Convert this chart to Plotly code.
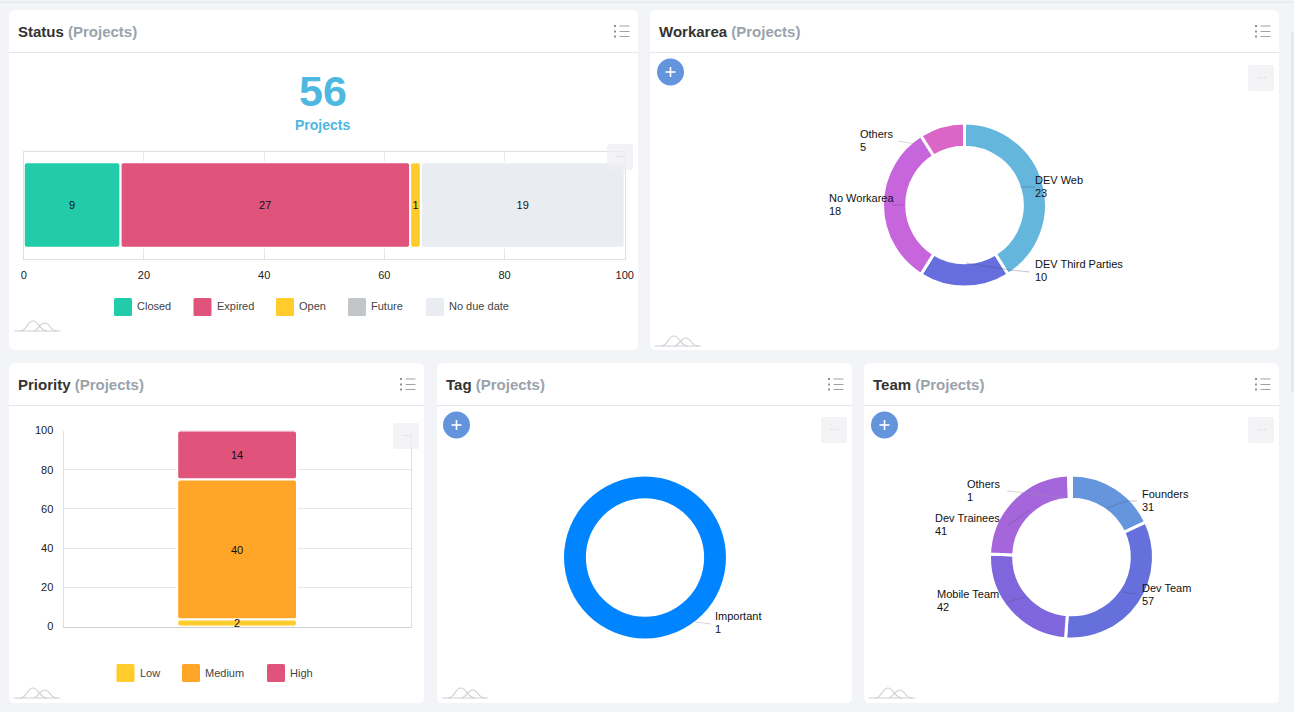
import plotly.graph_objects as go

W, H = 1294, 712
FONT = "Liberation Sans"

# ---------- data ----------
status_labels = ["Closed", "Expired", "Open", "Future", "No due date"]
status_values = [9, 27, 1, 0, 19]
status_colors = ["#22CCAA", "#E0537A", "#FFCC2B", "#C2C6C8", "#E9EDF1"]
total_label = "56"
total_caption = "Projects"

priority_labels = ["Low", "Medium", "High"]
priority_values = [2, 40, 14]
priority_colors = ["#FFCC2B", "#FFA629", "#E0537A"]

workarea_labels = ["DEV Web", "DEV Third Parties", "No Workarea", "Others"]
workarea_values = [23, 10, 18, 5]
workarea_colors = ["#65B6DC", "#656EDC", "#C766DC", "#DC66C8"]

tag_labels = ["Important"]
tag_values = [1]
tag_colors = ["#0084FF"]

team_labels = ["Founders", "Dev Team", "Mobile Team", "Dev Trainees", "Others"]
team_values = [31, 57, 42, 41, 1]
team_colors = ["#6595DC", "#6570DC", "#8066DC", "#A566DC", "#C766DC"]

axis_ticks = [0, 20, 40, 60, 80, 100]
panel_titles = ["Status", "Workarea", "Priority", "Tag", "Team"]

# ---------- layout geometry (pixels) ----------
panels = [(9, 10, 638, 350), (650, 10, 1279, 350), (9, 363, 424, 703),
          (437, 363, 852, 703), (864, 363, 1279, 703)]
spark_origin = [(14, 331), (655, 346), (14, 698), (442, 698), (869, 698)]
plus_buttons = [(670.5, 72), (456.5, 425), (884.5, 425)]
grey_boxes = [(607, 144), (1248, 65), (393, 423), (821, 417), (1248, 417)]

px = lambda x: x / W
py = lambda y: 1 - y / H

shapes, annots = [], []


def rect(x0, y0, x1, y1, fill, layer="below"):
    shapes.append(dict(type="rect", xref="paper", yref="paper", x0=px(x0), x1=px(x1),
                       y0=py(y0), y1=py(y1), fillcolor=fill, line_width=0, layer=layer))


def seg(pts, color, width=1, layer="below"):
    d = "M " + " L ".join(f"{px(x):.5f},{py(y):.5f}" for x, y in pts)
    shapes.append(dict(type="path", xref="paper", yref="paper", path=d,
                       line=dict(color=color, width=width), layer=layer))


def round_rect(x0, y0, x1, y1, r, fill, layer="below"):
    X, Y = px, py
    d = (f"M {X(x0+r)},{Y(y0)} L {X(x1-r)},{Y(y0)} Q {X(x1)},{Y(y0)} {X(x1)},{Y(y0+r)} "
         f"L {X(x1)},{Y(y1-r)} Q {X(x1)},{Y(y1)} {X(x1-r)},{Y(y1)} "
         f"L {X(x0+r)},{Y(y1)} Q {X(x0)},{Y(y1)} {X(x0)},{Y(y1-r)} "
         f"L {X(x0)},{Y(y0+r)} Q {X(x0)},{Y(y0)} {X(x0+r)},{Y(y0)} Z")
    shapes.append(dict(type="path", xref="paper", yref="paper", path=d,
                       fillcolor=fill, line_width=0, layer=layer))


def text(x, y, s, size=11, color="#222222", anchor="left"):
    annots.append(dict(xref="paper", yref="paper", x=px(x), y=py(y), text=s, showarrow=False,
                       xanchor=anchor, yanchor="middle", borderpad=0, align=anchor,
                       font=dict(family=FONT, size=size, color=color)))


# page chrome
rect(0, 1.5, W, 3, "#E6E9EC")
rect(1291, 32, W, 392, "#E7E9ED")

for (x0, y0, x1, y1), title, (sx, sy) in zip(panels, panel_titles, spark_origin):
    round_rect(x0, y0, x1, y1, 6, "#FFFFFF")
    seg([(x0, y0 + 42.5), (x1, y0 + 42.5)], "#E4E6E9", 1)
    text(x0 + 7.5, y0 + 21.5,
         f"<b>{title}</b> <b><span style='color:#9AA3AB'>(Projects)</span></b>", 15, "#333333")
    # list icon
    for dy in (16, 21.5, 26.5):
        seg([(x1 - 24, y0 + dy), (x1 - 22, y0 + dy)], "#8C9197", 2)
        seg([(x1 - 18.5, y0 + dy), (x1 - 8.5, y0 + dy)], "#9EA3A8", 1)
    # sparkline icon
    for dx_pts in (
        f"M {px(sx)},{py(sy)} L {px(sx+46)},{py(sy)}",
        f"M {px(sx+6)},{py(sy)} C {px(sx+13)},{py(sy)} {px(sx+13)},{py(sy-10)} {px(sx+19)},{py(sy-10)} "
        f"C {px(sx+25)},{py(sy-10)} {px(sx+25)},{py(sy)} {px(sx+33)},{py(sy)}",
        f"M {px(sx+20)},{py(sy)} C {px(sx+25)},{py(sy-2)} {px(sx+26)},{py(sy-8)} {px(sx+31)},{py(sy-8)} "
        f"C {px(sx+36)},{py(sy-8)} {px(sx+36)},{py(sy)} {px(sx+43)},{py(sy)}",
    ):
        shapes.append(dict(type="path", xref="paper", yref="paper", path=dx_pts,
                           line=dict(color="#CDD0D3", width=1.2), layer="below"))

for cx, cy in plus_buttons:
    shapes.append(dict(type="circle", xref="paper", yref="paper", x0=px(cx - 13.5), x1=px(cx + 13.5),
                       y0=py(cy + 13.5), y1=py(cy - 13.5), fillcolor="#6495DC", line_width=0, layer="below"))
    seg([(cx - 5, cy), (cx + 5, cy)], "#FFFFFF", 1.6)
    seg([(cx, cy - 5), (cx, cy + 5)], "#FFFFFF", 1.6)

for bx, by in grey_boxes:
    round_rect(bx, by, bx + 26, by + 26, 2, "rgba(238,239,241,0.72)", layer="above")
    text(bx + 13, by + 12, "···", 9, "#C9CCD0", "center")

# big number
text(322.5, 91, f"<b>{total_label}</b>", 43, "#4DB8E0", "center")
text(322.5, 125, f"<b>{total_caption}</b>", 14, "#4DB8E0", "center")

# custom square legends
status_sw = [114, 193.5, 276, 348, 426]
status_tx = [135.5, 215.5, 298, 370, 447.5]
for lab, col, a, b in zip(status_labels, status_colors, status_sw, status_tx):
    round_rect(a, 298, a + 18, 316, 1.5, col)
    text(b, 306.5, lab, 11, "#444444")
prio_sw = [116.5, 182, 267]
prio_tx = [138.5, 204, 289]
for lab, col, a, b in zip(priority_labels, priority_colors, prio_sw, prio_tx):
    round_rect(a, 664, a + 18, 682, 1.5, col)
    text(b, 673, lab, 11, "#444444")

fig = go.Figure()


def stacked(labels, values, colors, horizontal, xa, ya, width):
    total = sum(values)
    base = 0
    traces = []
    for lab, v, c in zip(labels, values, colors):
        pct = v / total * 100
        if v > 0:
            traces.append(go.Bar(
                name=lab, orientation="h" if horizontal else "v",
                x=[pct] if horizontal else ["Projects"],
                y=["Projects"] if horizontal else [pct],
                base=[base], width=width, xaxis=xa, yaxis=ya, showlegend=False,
                marker=dict(color=c, cornerradius=3, line=dict(color="#FFFFFF", width=2)),
                text=[str(v)], textposition="inside", insidetextanchor="middle", textangle=0,
                constraintext="none", cliponaxis=False,
                textfont=dict(family=FONT, size=11, color="#111111"),
                hovertemplate=f"{lab}: {v}<extra></extra>"))
        base += pct
    # drawn last-to-first so a thin segment's label stays on top of its neighbour
    for t in reversed(traces):
        fig.add_trace(t)


stacked(status_labels, status_values, status_colors, True, "x", "y", 0.8)
stacked(priority_labels, priority_values, priority_colors, False, "x2", "y2", 0.345)


def donut(labels, values, colors, cx, cy, r, hole, line):
    fig.add_trace(go.Pie(
        labels=labels, values=values, sort=False, direction="clockwise", rotation=0, hole=hole,
        marker=dict(colors=colors, line=dict(color="#FFFFFF", width=line)),
        textinfo="none", showlegend=False,
        domain=dict(x=[px(cx - r), px(cx + r)], y=[py(cy + r), py(cy - r)])))


donut(workarea_labels, workarea_values, workarea_colors, 964.5, 205, 82, 0.705, 3)
donut(tag_labels, tag_values, tag_colors, 645, 557.5, 81, 0.73, 0)
donut(team_labels, team_values, team_colors, 1071.5, 557, 82, 0.705, 3)

# pie labels and leader lines (pixel positions)
LIGHT = "rgba(150,150,160,0.55)"
DARK = "rgba(70,70,110,0.45)"
wa_pos = [(1034, 180), (1034, 264), (828, 198), (859, 134)]
wa_lead = [[(1020, 187), (1035, 187)], [(966, 263), (1010, 270), (1030, 272)],
           [(892, 205), (905, 205)], [(898, 141), (916, 144)]]
tag_pos = [(714, 616)]
tag_lead = [[(695, 622), (711, 624)]]
team_pos = [(1141, 494), (1141, 588), (935.5, 594), (934, 518), (966, 484)]
team_lead = [[(1107, 508), (1127, 501), (1137, 501)], [(1122, 592), (1137, 594)],
             [(1007, 602), (1025, 597)], [(1007, 526), (1030, 510)],
             [(1007, 491), (1027, 493), (1063, 498)]]
for labs, vals, poss, leads in ((workarea_labels, workarea_values, wa_pos, wa_lead),
                                (tag_labels, tag_values, tag_pos, tag_lead),
                                (team_labels, team_values, team_pos, team_lead)):
    for lab, v, (x, y), lead in zip(labs, vals, poss, leads):
        text(x, y, lab, 11, "#111111")
        text(x, y + 13, str(v), 11, "#111111")
        seg(lead, DARK if lab not in ("Others", "Important") else LIGHT, 0.7, layer="above")

axis_line = "#DDE0E4"
tickfont = dict(family=FONT, size=11, color="#222222")
fig.update_layout(
    width=W, height=H, autosize=False, margin=dict(l=0, r=0, t=0, b=0, pad=0, autoexpand=False),
    paper_bgcolor="#F2F4F7", plot_bgcolor="rgba(0,0,0,0)", barmode="overlay",
    showlegend=False, font=dict(family=FONT), shapes=shapes, annotations=annots,
    xaxis=dict(domain=[px(23.8), px(624.8)], range=[0, 100.02], tickvals=axis_ticks, tickfont=tickfont,
               showgrid=True, gridcolor="#E4E6EA", showline=True, linecolor=axis_line, mirror=True,
               zeroline=False, ticks="outside", ticklen=6, tickcolor="rgba(0,0,0,0)", anchor="y"),
    yaxis=dict(domain=[py(258.5), py(151.5)], range=[-0.5, 0.5], type="category", showticklabels=False,
               showgrid=False, showline=True, linecolor=axis_line, mirror=True, ticks="", anchor="x"),
    xaxis2=dict(domain=[px(63.5), px(410.7)], range=[-0.5, 0.5], type="category", showticklabels=False,
                showgrid=False, showline=True, linecolor="#CDD1D5", ticks="", anchor="y2"),
    yaxis2=dict(domain=[py(626.5), py(430.5)], range=[0, 100], tickvals=axis_ticks, tickfont=tickfont,
                showgrid=True, gridcolor="#E4E6EA", showline=True, linecolor=axis_line, mirror=True,
                zeroline=False, ticks="outside", ticklen=7, tickcolor="rgba(0,0,0,0)", anchor="x2"),
)

fig.write_html("out.html", config=dict(displayModeBar=False),
               post_script="document.body.style.margin='0';document.body.style.overflow='hidden';")
